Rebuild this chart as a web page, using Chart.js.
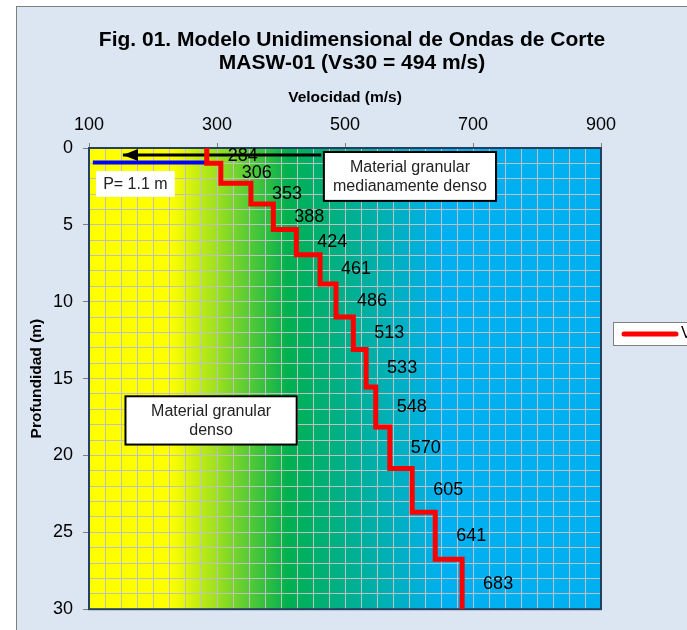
<!DOCTYPE html>
<html>
<head>
<meta charset="utf-8">
<script src="https://cdn.jsdelivr.net/npm/chart.js@4.4.1/dist/chart.umd.min.js"></script>
<style>
  html, body { margin: 0; padding: 0; background: #fff; }
</style>
</head>
<body>
<canvas id="graficoMasw" width="687" height="630"></canvas>
<script>
// velocidad de cada capa (m/s) y profundidad de su techo (m)
const velocidades = [284, 306, 353, 388, 424, 461, 486, 513, 533, 548, 570, 605, 641, 683];
const profTecho = [0, 1.0, 2.3, 3.65, 5.3, 6.95, 8.85, 11.0, 13.1, 15.55, 18.15, 20.85, 23.7, 26.75];
const profMax = 30;

const ticksVel = [100, 300, 500, 700, 900];
const ticksProf = [0, 5, 10, 15, 20, 25, 30];

// linea azul (P= 1.1 m) y flecha
const lineaP_vel = [106, 284];
const lineaP_prof = [0.95, 0.95];
const flecha_vel = [463, 153];
const flecha_prof = [0.45, 0.45];

const FUENTE = "'Liberation Sans', Arial, sans-serif";

let perfil = velocidades.map((v, i) => ({ x: v, y: profTecho[i] }));
perfil.push({ x: velocidades[velocidades.length - 1], y: profMax });

const textoCajas = [
    { lineas: ["P= 1.1 m"], v: [111, 234], p: [1.49, 3.18], borde: false },
    { lineas: ["Material granular", "medianamente denso"], v: [467, 736], p: [0.26, 3.44], borde: true },
    { lineas: ["Material granular", "denso"], v: [157, 424.5], p: [16.15, 19.29], borde: true }
];

const decorado = {
    id: "decorado",
    beforeDraw(chart) {
        const ctx = chart.ctx;
        const a = chart.chartArea;
        ctx.save();
        ctx.fillStyle = "#ffffff";
        ctx.fillRect(0, 0, chart.width, chart.height);
        ctx.fillStyle = "#dce6f2";
        ctx.fillRect(16, 6, chart.width, chart.height);
        ctx.strokeStyle = "#7f7f7f";
        ctx.lineWidth = 1;
        ctx.strokeRect(16.5, 6.5, chart.width + 10, chart.height + 10);

        let grad = ctx.createLinearGradient(a.left, 0, a.right, 0);
        grad.addColorStop(0, "#ffff00");
        grad.addColorStop(0.16, "#ffff00");
        grad.addColorStop(0.39, "#00b050");
        grad.addColorStop(0.69, "#00b0f0");
        grad.addColorStop(1, "#00b0f0");
        ctx.fillStyle = grad;
        ctx.fillRect(a.left, a.top, a.right - a.left, a.bottom - a.top);

        ctx.fillStyle = "#000";
        ctx.font = "bold 21px " + FUENTE;
        ctx.textAlign = "center";
        ctx.textBaseline = "middle";
        ctx.fillText("Fig. 01. Modelo Unidimensional de Ondas de Corte", 352, 40);
        ctx.fillText("MASW-01 (Vs30 = 494 m/s)", 352, 63);
        ctx.restore();
    },
    beforeDatasetsDraw(chart) {
        const ctx = chart.ctx;
        const a = chart.chartArea;
        ctx.save();
        ctx.strokeStyle = "#243f60";
        ctx.lineWidth = 2;
        ctx.strokeRect(a.left, a.top, a.right - a.left, a.bottom - a.top);
        ctx.restore();
    },
    afterDatasetsDraw(chart) {
        const ctx = chart.ctx;
        const sx = chart.scales.x;
        const sy = chart.scales.y;
        ctx.save();

        // punta de flecha
        const pts = chart.getDatasetMeta(2).data;
        const fin = pts[pts.length - 1];
        ctx.fillStyle = "#000";
        ctx.beginPath();
        ctx.moveTo(fin.x, fin.y);
        ctx.lineTo(fin.x + 15, fin.y - 6);
        ctx.lineTo(fin.x + 15, fin.y + 6);
        ctx.closePath();
        ctx.fill();

        // etiquetas de velocidad
        ctx.font = "18px " + FUENTE;
        ctx.fillStyle = "#000";
        ctx.textAlign = "center";
        ctx.textBaseline = "middle";
        velocidades.forEach((v, i) => {
            let base = i + 1 < profTecho.length ? profTecho[i + 1] : profMax;
            let yMid = sy.getPixelForValue((profTecho[i] + base) / 2);
            ctx.fillText(String(v), sx.getPixelForValue(v) + 36, yMid);
        });

        // cajas de texto
        textoCajas.forEach(c => {
            let x1 = sx.getPixelForValue(c.v[0]);
            let x2 = sx.getPixelForValue(c.v[1]);
            let y1 = sy.getPixelForValue(c.p[0]);
            let y2 = sy.getPixelForValue(c.p[1]);
            ctx.fillStyle = "#fff";
            ctx.fillRect(x1, y1, x2 - x1, y2 - y1);
            if (c.borde) {
                ctx.strokeStyle = "#000";
                ctx.lineWidth = 2;
                ctx.strokeRect(x1, y1, x2 - x1, y2 - y1);
            }
            ctx.fillStyle = "#222";
            ctx.font = "16px " + FUENTE;
            let cy = (y1 + y2) / 2 - (c.lineas.length - 1) * 9.5 + 0.5;
            c.lineas.forEach((t, k) => ctx.fillText(t, (x1 + x2) / 2, cy + k * 19));
        });

        // leyenda
        ctx.fillStyle = "#fff";
        ctx.fillRect(613.5, 322.5, 120, 23);
        ctx.strokeStyle = "#7f7f7f";
        ctx.lineWidth = 1;
        ctx.strokeRect(613.5, 322.5, 120, 23);
        ctx.strokeStyle = "#ff0000";
        ctx.lineWidth = 5;
        ctx.lineCap = "round";
        ctx.beginPath();
        ctx.moveTo(624, 334);
        ctx.lineTo(676, 334);
        ctx.stroke();
        ctx.fillStyle = "#000";
        ctx.textAlign = "left";
        ctx.font = "16px " + FUENTE;
        ctx.fillText(chart.data.datasets[0].label, 681, 334);
        ctx.restore();
    }
};

new Chart(document.getElementById("graficoMasw").getContext("2d"), {
    type: "line",
    data: {
        datasets: [
            {
                label: "Vs (m/s)",
                data: perfil,
                borderColor: "#ff0000",
                borderWidth: 5,
                stepped: "after",
                pointRadius: 0,
                fill: false
            },
            {
                label: "P",
                data: lineaP_vel.map((v, i) => ({ x: v, y: lineaP_prof[i] })),
                borderColor: "#0000ff",
                borderWidth: 4,
                pointRadius: 0,
                fill: false
            },
            {
                label: "flecha",
                data: flecha_vel.map((v, i) => ({ x: v, y: flecha_prof[i] })),
                borderColor: "#000",
                borderWidth: 3,
                pointRadius: 0,
                fill: false
            }
        ]
    },
    options: {
        responsive: false,
        animation: false,
        devicePixelRatio: 1,
        layout: { padding: { left: 16, top: 72, right: 86, bottom: 20 } },
        plugins: {
            legend: { display: false },
            tooltip: { enabled: false }
        },
        scales: {
            x: {
                type: "linear",
                position: "top",
                min: 100,
                max: 900,
                afterFit: s => { s.height = 76; },
                border: { display: false },
                grid: {
                    color: "#c0c0c0",
                    lineWidth: 1,
                    tickLength: 5,
                    tickColor: c => ticksVel.includes(c.tick.value) ? "#7f7f7f" : "rgba(0,0,0,0)"
                },
                ticks: {
                    stepSize: 25,
                    autoSkip: false,
                    maxRotation: 0,
                    padding: 7,
                    color: "#000",
                    font: { family: FUENTE, size: 18 },
                    callback: v => ticksVel.includes(v) ? v : ""
                },
                title: {
                    display: true,
                    text: "Velocidad (m/s)",
                    color: "#000",
                    font: { family: FUENTE, size: 15.5, weight: "bold" },
                    padding: { top: 16, bottom: 0 }
                }
            },
            y: {
                type: "linear",
                reverse: true,
                min: 0,
                max: profMax,
                afterFit: s => { s.width = 73; },
                border: { display: false },
                grid: {
                    color: "#c0c0c0",
                    lineWidth: 1,
                    tickLength: 6,
                    tickColor: c => ticksProf.includes(c.tick.value) ? "#7f7f7f" : "rgba(0,0,0,0)"
                },
                ticks: {
                    stepSize: 1,
                    autoSkip: false,
                    padding: 10,
                    color: "#000",
                    font: { family: FUENTE, size: 18 },
                    callback: v => ticksProf.includes(v) ? v : ""
                },
                title: {
                    display: true,
                    text: "Profundidad (m)",
                    color: "#000",
                    font: { family: FUENTE, size: 15.5, weight: "bold" },
                    padding: { top: 11.5, bottom: 0 }
                }
            }
        }
    },
    plugins: [decorado]
});
</script>
</body>
</html>
